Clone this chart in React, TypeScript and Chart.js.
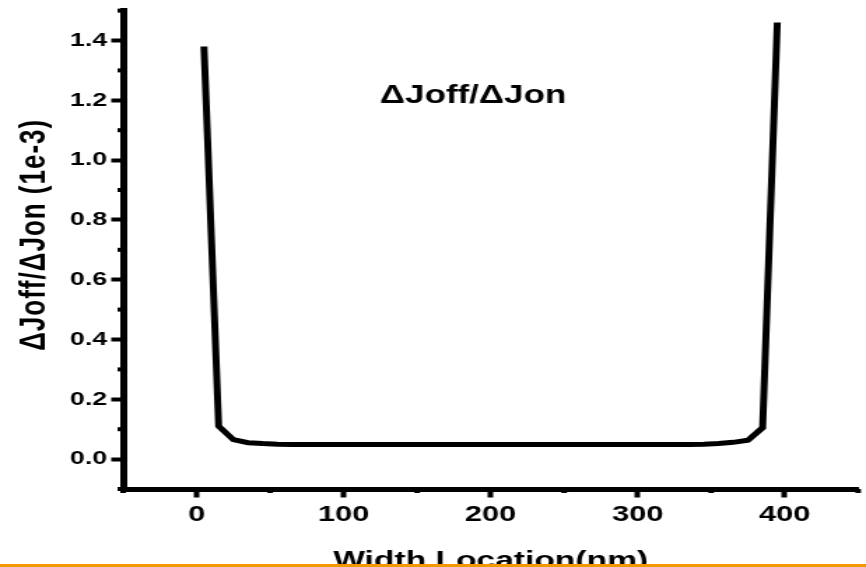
import React, { useEffect, useRef } from "react";
import { Chart, registerables } from "chart.js";

Chart.register(...registerables);

// ---- data ----
const widthLocation = [5, 15, 25, 35, 45, 55, 65, 75, 85, 95, 105, 115, 125, 135, 145, 155, 165, 175, 185, 195, 205, 215, 225, 235, 245, 255, 265, 275, 285, 295, 305, 315, 325, 335, 345, 355, 365, 375, 385, 395];
const ratio = [1.38, 0.11, 0.065, 0.055, 0.052, 0.05, 0.049, 0.049, 0.049, 0.049, 0.049, 0.049, 0.049, 0.049, 0.049, 0.049, 0.049, 0.049, 0.049, 0.049, 0.049, 0.049, 0.049, 0.049, 0.049, 0.049, 0.049, 0.049, 0.049, 0.049, 0.049, 0.049, 0.049, 0.049, 0.05, 0.052, 0.056, 0.063, 0.105, 1.46];

const xTickValues = [0, 100, 200, 300, 400];
const yTickValues = [0, 0.2, 0.4, 0.6, 0.8, 1.0, 1.2, 1.4];
const xMinorTicks = [-50, 50, 150, 250, 350, 450];
const yMinorTicks = [-0.1, 0.1, 0.3, 0.5, 0.7, 0.9, 1.1, 1.3, 1.5];

const xTitle = "Width Location(nm)";
const yTitle = "\u0394Joff/\u0394Jon (1e-3)";
const annotationText = "\u0394Joff/\u0394Jon";
const annotationPos = { x: 188, y: 1.19 };

const FONT = "'Liberation Sans', Arial, sans-serif";
const INTERNAL_W = 619;
const H = 567;

const overlay = {
  id: "overlay",
  afterDraw(chart: any) {
    const { ctx, chartArea, scales } = chart;
    const xs = scales.x;
    const ys = scales.y;
    ctx.save();
    ctx.strokeStyle = "#000";
    ctx.lineWidth = 4;
    ctx.lineCap = "butt";
    xMinorTicks.forEach((v) => {
      const px = xs.getPixelForValue(v);
      ctx.beginPath();
      ctx.moveTo(px, chartArea.bottom);
      ctx.lineTo(px, chartArea.bottom + 4);
      ctx.stroke();
    });
    yMinorTicks.forEach((v) => {
      const py = ys.getPixelForValue(v);
      ctx.beginPath();
      ctx.moveTo(chartArea.left - 4, py);
      ctx.lineTo(chartArea.left, py);
      ctx.stroke();
    });

    ctx.fillStyle = "#000";
    // annotation
    ctx.font = `bold 25px ${FONT}`;
    ctx.textAlign = "center";
    ctx.textBaseline = "alphabetic";
    ctx.fillText(annotationText, xs.getPixelForValue(annotationPos.x), ys.getPixelForValue(annotationPos.y));

    // x title
    ctx.font = `bold 24px ${FONT}`;
    ctx.fillText(xTitle, (chartArea.left + chartArea.right) / 2, 568);

    // y title
    ctx.save();
    ctx.translate(25, (chartArea.top + chartArea.bottom) / 2 - 15);
    ctx.rotate(-Math.PI / 2);
    ctx.font = `bold 26px ${FONT}`;
    try { (ctx as any).letterSpacing = "1px"; } catch (e) {}
    ctx.textBaseline = "middle";
    ctx.fillText(yTitle, 0, 0);
    ctx.restore();

    // bottom orange frame line
    ctx.fillStyle = "#f39800";
    ctx.fillRect(0, 564, chart.width, 3);
    ctx.restore();
  },
};

export default function App() {
  const ref = useRef<HTMLCanvasElement>(null);
  useEffect(() => {
    document.body.style.margin = "0";
    const canvas = ref.current!;
    const chart = new Chart(canvas, {
      type: "line",
      data: {
        datasets: [
          {
            data: widthLocation.map((x, i) => ({ x, y: ratio[i] })),
            borderColor: "#000",
            borderWidth: 5,
            pointRadius: 0,
            tension: 0,
            fill: false,
          },
        ],
      },
      options: {
        animation: false,
        responsive: false,
        devicePixelRatio: 1,
        layout: { padding: { top: 10.6, right: 5.6, left: 0, bottom: 0 } },
        plugins: { legend: { display: false }, tooltip: { enabled: false } },
        scales: {
          x: {
            type: "linear",
            min: -50,
            max: 450,
            afterBuildTicks: (s: any) => {
              s.ticks = xTickValues.map((value) => ({ value }));
            },
            afterFit: (s: any) => {
              s.height = 78;
              s.paddingLeft = 0;
              s.paddingRight = 0;
            },
            border: { display: true, color: "#000", width: 5 },
            grid: { drawOnChartArea: false, drawTicks: true, tickLength: 8.5, tickWidth: 4, tickColor: "#000" },
            ticks: {
              color: "#000",
              padding: 4,
              maxRotation: 0,
              font: { family: FONT, weight: "bold", size: 22 },
              callback: (v: any) => String(v),
            },
          },
          y: {
            type: "linear",
            min: -0.1,
            max: 1.5,
            afterBuildTicks: (s: any) => {
              s.ticks = yTickValues.map((value) => ({ value }));
            },
            afterFit: (s: any) => {
              s.width = 88;
              s.paddingTop = 0;
              s.paddingBottom = 0;
            },
            border: { display: true, color: "#000", width: 5 },
            grid: { drawOnChartArea: false, drawTicks: true, tickLength: 8.5, tickWidth: 4, tickColor: "#000" },
            ticks: {
              color: "#000",
              padding: 3,
              font: { family: FONT, weight: "bold", size: 19 },
              callback: (v: any) => Number(v).toFixed(1),
            },
          },
        },
      },
      plugins: [overlay],
    } as any);
    return () => chart.destroy();
  }, []);
  return (
    <div style={{ position: "fixed", left: 0, top: 0, width: 866, height: H, overflow: "hidden", background: "#fff" }}>
      <canvas ref={ref} width={INTERNAL_W} height={H} style={{ width: "866px", height: `${H}px`, display: "block" }} />
    </div>
  );
}
